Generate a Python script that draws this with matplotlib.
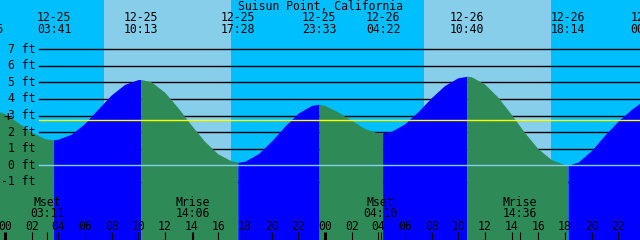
import numpy as np
import matplotlib
matplotlib.use('Agg')
import matplotlib.pyplot as plt

title = 'Suisun Point, California'

# highs and lows
event_dates = ['12-24', '12-25', '12-25', '12-25', '12-25', '12-26', '12-26', '12-26', '12-27']
event_times = ['22:35', '03:41', '10:13', '17:28', '23:33', '04:22', '10:40', '18:14', '00:12']
event_ft = [3.45, 1.52, 5.14, 0.18, 3.68, 1.93, 5.33, 0.00, 4.00]

# tide height every hour, starting 12-25 -01:00
hourly_start = -1
hourly_ft = [3.42, 3.10, 2.56, 1.99, 1.60, 1.54, 1.84, 2.48, 3.35, 4.20,
             4.84, 5.13, 5.00, 4.38, 3.45, 2.40, 1.42, 0.66, 0.24, 0.25,
             0.70, 1.47, 2.37, 3.15, 3.61, 3.60, 3.20, 2.70, 2.20, 1.95,
             2.01, 2.46, 3.19, 4.03, 4.77, 5.24, 5.31, 4.87, 4.08, 3.05,
             1.95, 0.98, 0.32, 0.02, 0.20, 0.90, 1.83, 2.68, 3.38, 3.97]

moon_names = ['Mset', 'Mrise', 'Mset', 'Mrise']
moon_dates = ['12-25', '12-25', '12-26', '12-26']
moon_times = ['03:11', '14:06', '04:10', '14:36']

sun_dates = ['12-25', '12-26']
sunrise_times = ['07:25', '07:26']
sunset_times = ['16:57', '16:57']

ft_levels = [-1, 0, 1, 2, 3, 4, 5, 6, 7]
datum_ft = 2.71

night_col = '#00bfff'
day_col = '#87ceeb'
ebb_col = '#2e8b57'
flood_col = '#0000ff'
FONT = 'DejaVu Sans Mono'
FS = 8.3


def to_hours(date, time):
    day = int(date[3:]) - 25
    hh, mm = time.split(':')
    return day * 24 + int(hh) + int(mm) / 60.0


W, H = 640, 240
fig = plt.figure(figsize=(W / 100, H / 100), dpi=100)
ax = fig.add_axes([0, 0, 1, 1])
ax.set_xlim(-5 / 13.333, (W - 5) / 13.333)
ax.set_ylim(-(H - 165.3) / 16.6, 165.3 / 16.6)
ax.axis('off')
ax.set_facecolor(night_col)
ax.axvspan(-10, 60, color=night_col, zorder=0, lw=0)
for d, r, s in zip(sun_dates, sunrise_times, sunset_times):
    ax.axvspan(to_hours(d, r), to_hours(d, s), color=day_col, zorder=0.5, lw=0)

# depth lines (under the water)
for lv in ft_levels:
    if lv != 0:
        ax.axhline(lv, xmin=39 / W, xmax=1, color='black', lw=1.0, zorder=1)

# tide curve, blue while rising, green while falling
ev_h = [to_hours(d, t) for d, t in zip(event_dates, event_times)]
hrs = list(range(hourly_start, hourly_start + len(hourly_ft)))
xs = np.array(hrs + ev_h, dtype=float)
ys = np.array(hourly_ft + event_ft, dtype=float)
order = np.argsort(xs)
xs, ys = xs[order], ys[order]
ev_idx = [int(np.searchsorted(xs, e)) for e in ev_h]
for a, b in zip(ev_idx[:-1], ev_idx[1:]):
    col = flood_col if ys[b] > ys[a] else ebb_col
    ax.fill_between(xs[a:b + 1], ys[a:b + 1], -10, color=col, lw=0, zorder=2)

ax.axhline(0, xmin=39 / W, xmax=1, color=day_col, lw=1.0, zorder=3)
ax.axhline(datum_ft, xmin=39 / W, xmax=1, color='#ffff00', lw=1.0, zorder=3)

# level labels
ytr = ax.get_yaxis_transform()
for lv in ft_levels:
    ax.text(35 / W, lv, '%d ft' % lv, transform=ytr, ha='right', va='center',
            family=FONT, fontsize=FS, zorder=5)
ax.text(8 / W, (165.3 - 117.5) / 16.6, '+', transform=ytr, ha='center', va='center',
        family=FONT, fontsize=FS + 2, zorder=5)

xtr = ax.get_xaxis_transform()
ax.text(0.5, 1 - 6 / H, title, transform=ax.transAxes, ha='center', va='center',
        family=FONT, fontsize=FS, zorder=5)
for d, t, h in zip(event_dates, event_times, ev_h):
    if h >= 0:
        ax.text(h, 1 - 17.5 / H, d, transform=xtr, ha='center', va='center',
                family=FONT, fontsize=FS, zorder=5)
    ax.text(h, 1 - 29.5 / H, t, transform=xtr, ha='center', va='center',
            family=FONT, fontsize=FS, zorder=5)

# moon events
for n, d, t in zip(moon_names, moon_dates, moon_times):
    h = to_hours(d, t)
    ax.text(h, 1 - 202.3 / H, n, transform=xtr, ha='center', va='center',
            family=FONT, fontsize=FS, zorder=5)
    ax.text(h, 1 - 213.3 / H, t, transform=xtr, ha='center', va='center',
            family=FONT, fontsize=FS, zorder=5)
    ax.vlines(h, 0, 8 / H, transform=xtr, color='black', lw=0.8, zorder=5)

# hour axis
for h in range(0, 49, 2):
    ax.text(h, 1 - 226 / H, '%02d' % (h % 24), transform=xtr, ha='center', va='center',
            family=FONT, fontsize=FS, zorder=5)
    ax.vlines(h, 0, 8 / H, transform=xtr, color='black',
              lw=2.2 if h % 24 == 0 else 0.8, zorder=5)

fig.savefig('out.png', dpi=100)
